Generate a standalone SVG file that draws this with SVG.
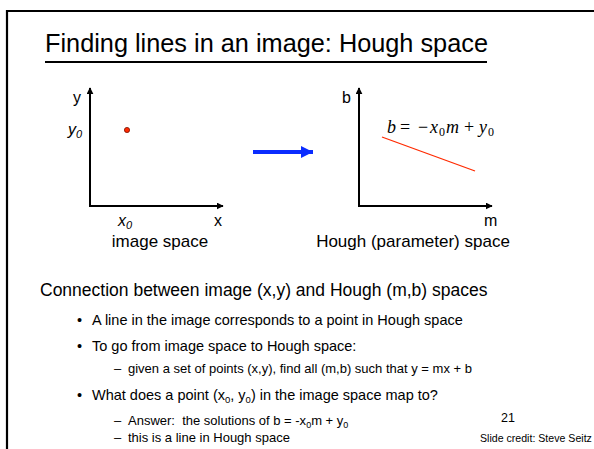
<svg xmlns="http://www.w3.org/2000/svg" width="594" height="449" viewBox="0 0 594 449">
<style>
text{font-family:"Liberation Sans",Arial,sans-serif;fill:#000}
.ax{stroke:#000;stroke-width:2;fill:none}
.lbl{font-size:16px}
.cap{font-size:17.5px}
.sp{font-size:17px;text-anchor:middle}
.b1{font-size:14.5px}
.b2{font-size:13px}
.m{font-family:"Liberation Serif","DejaVu Serif",serif;font-size:18px}
.i{font-style:italic}
</style>
<defs>
<marker id="ah" viewBox="0 0 10 10" refX="9" refY="5" markerWidth="7" markerHeight="7" markerUnits="userSpaceOnUse" orient="auto">
<path d="M0,0 L10,5 L0,10 z" fill="#000"/>
</marker>
<marker id="bh" viewBox="0 0 10 10" refX="10" refY="5" markerWidth="12" markerHeight="12" markerUnits="userSpaceOnUse" orient="auto">
<path d="M0,0 L10,5 L0,10 z" fill="#0a2cff"/>
</marker>
</defs>
<rect width="594" height="449" fill="#fff"/>
<path d="M7,449 V11 H594" stroke="#000" stroke-width="2.2" fill="none"/>

<g id="title">
<text x="45" y="52" font-size="25.3">Finding lines in an image: Hough space</text>
<line x1="45" y1="62" x2="487" y2="62" stroke="#000" stroke-width="2"/>
</g>

<g id="image-space">
<line class="ax" x1="90" y1="206" x2="90" y2="88" marker-end="url(#ah)"/>
<line class="ax" x1="89" y1="206" x2="223" y2="206" marker-end="url(#ah)"/>
<text class="lbl" x="73" y="103">y</text>
<text class="lbl i" x="68" y="135">y<tspan font-size="11" dy="3">0</tspan></text>
<circle cx="127" cy="130" r="2.6" fill="#ff2a00" stroke="#7a1000" stroke-width="0.8"/>
<text class="lbl i" x="118" y="226">x<tspan font-size="11" dy="3">0</tspan></text>
<text class="lbl" x="214" y="226">x</text>
<text class="sp" x="160" y="247">image space</text>
</g>

<g id="connectors">
<line x1="253" y1="152" x2="313" y2="152" stroke="#0a2cff" stroke-width="4" marker-end="url(#bh)"/>
</g>

<g id="hough-space">
<line class="ax" x1="359" y1="206" x2="359" y2="88" marker-end="url(#ah)"/>
<line class="ax" x1="358" y1="206" x2="492" y2="206" marker-end="url(#ah)"/>
<text class="lbl" x="342" y="103">b</text>
<text class="lbl" x="484" y="226">m</text>
<line x1="382" y1="137" x2="475" y2="171" stroke="#ff2a00" stroke-width="1.3"/>
<text class="m" y="133"><tspan class="i" x="387">b</tspan><tspan x="400">=</tspan><tspan x="418">−</tspan><tspan class="i" x="430">x</tspan><tspan x="439" font-size="12" dy="3">0</tspan><tspan class="i" x="446" dy="-3">m</tspan><tspan x="464">+</tspan><tspan class="i" x="479">y</tspan><tspan x="488" font-size="12" dy="3">0</tspan></text>
<text class="sp" x="413" y="247">Hough (parameter) space</text>
</g>

<g id="body">
<text class="cap" x="40" y="296">Connection between image (x,y) and Hough (m,b) spaces</text>
<text class="b1" x="77" y="325">•</text>
<text class="b1" x="92" y="325">A line in the image corresponds to a point in Hough space</text>
<text class="b1" x="77" y="351">•</text>
<text class="b1" x="92" y="351">To go from image space to Hough space:</text>
<text class="b2" x="114" y="373">–</text>
<text class="b2" x="128" y="373">given a set of points (x,y), find all (m,b) such that y = mx + b</text>
<text class="b1" x="77" y="400">•</text>
<text class="b1" x="92" y="400">What does a point (x<tspan font-size="9.5" dy="3">0</tspan><tspan dy="-3">, y</tspan><tspan font-size="9.5" dy="3">0</tspan><tspan dy="-3">) in the image space map to?</tspan></text>
<text class="b2" x="114" y="425">–</text>
<text class="b2" x="128" y="425">Answer:&#160; the solutions of b = -x<tspan font-size="9" dy="3">0</tspan><tspan dy="-3">m + y</tspan><tspan font-size="9" dy="3">0</tspan></text>
<text class="b2" x="114" y="442">–</text>
<text class="b2" x="128" y="442">this is a line in Hough space</text>
<text x="501" y="422" font-family="Liberation Serif,serif" font-size="12.5">21</text>
<text x="480" y="442" font-size="10.6">Slide credit: Steve Seitz</text>
</g>
</svg>
